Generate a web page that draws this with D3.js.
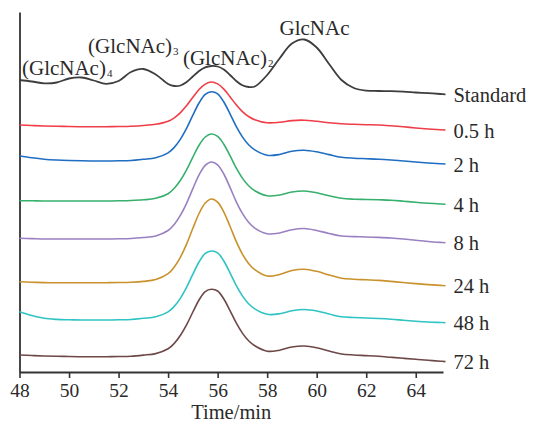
<!DOCTYPE html>
<html>
<head>
<meta charset="utf-8">
<script src="https://cdn.jsdelivr.net/npm/d3@7"></script>
<style>
  html, body { margin: 0; padding: 0; background: #fff; }
  svg { display: block; }
  text { font-family: "Liberation Serif", "Times New Roman", serif; fill: #2a2a2a; }
</style>
</head>
<body>
<svg id="chart" width="533" height="423"></svg>
<script>
// Retention time (min)
const times = [48, 48.5, 49, 49.5, 50, 50.5, 51, 51.5, 52, 52.5, 53, 53.5, 54,
  54.25, 54.5, 54.75, 55, 55.25, 55.5, 55.75, 56, 56.25, 56.5, 56.75, 57, 57.25, 57.5,
  58, 58.5, 59, 59.5, 60, 60.5, 61, 61.5, 62, 62.5, 63, 63.5, 64, 64.5, 65, 65.2];

// Stacked detector signal (arbitrary units, traces offset vertically)
const standard = [29.2, 29.05, 28.87, 28.95, 29.35, 29.45, 29.15, 28.82, 29.1, 30.0, 30.3, 29.75, 28.8,
  28.6, 28.65, 29.0, 29.55, 30.1, 30.47, 30.6, 30.55, 30.25, 29.7, 29.1, 28.67, 28.5, 28.55,
  29.7, 31.35, 32.85, 33.25, 32.45, 30.8, 29.2, 28.4, 28.14, 28.1, 28.08, 28.03, 27.95, 27.88, 27.8, 27.77];
const h05 = [24.7, 24.65, 24.6, 24.57, 24.55, 24.53, 24.53, 24.53, 24.55, 24.58, 24.65, 24.77, 25.08,
  25.42, 25.94, 26.64, 27.47, 28.25, 28.79, 29.0, 28.81, 28.29, 27.53, 26.72, 26.04, 25.55, 25.23,
  24.92, 24.97, 25.14, 25.18, 25.07, 24.92, 24.82, 24.77, 24.73, 24.7, 24.62, 24.52, 24.4, 24.3, 24.22, 24.2];
const h2 = [21.6, 21.42, 21.28, 21.2, 21.15, 21.12, 21.1, 21.1, 21.12, 21.15, 21.27, 21.42, 21.91,
  22.46, 23.29, 24.38, 25.68, 26.9, 27.76, 28.03, 27.82, 27.0, 25.82, 24.56, 23.51, 22.72, 22.21,
  21.68, 21.75, 22.08, 22.18, 22.02, 21.74, 21.48, 21.38, 21.33, 21.28, 21.2, 21.1, 21.0, 20.9, 20.82, 20.8];
const h4 = [17.13, 17.12, 17.1, 17.1, 17.1, 17.1, 17.1, 17.1, 17.12, 17.15, 17.22, 17.37, 17.83,
  18.37, 19.17, 20.23, 21.49, 22.68, 23.5, 23.8, 23.56, 22.78, 21.63, 20.41, 19.39, 18.63, 18.13,
  17.62, 17.7, 18.0, 18.1, 17.92, 17.62, 17.37, 17.28, 17.25, 17.22, 17.18, 17.08, 16.97, 16.87, 16.8, 16.78];
const h8 = [13.37, 13.34, 13.3, 13.3, 13.3, 13.3, 13.3, 13.3, 13.32, 13.35, 13.45, 13.61, 14.15,
  14.76, 15.68, 16.89, 18.34, 19.71, 20.66, 21.0, 20.72, 19.8, 18.46, 17.04, 15.86, 14.97, 14.39,
  13.82, 13.9, 14.22, 14.35, 14.15, 13.85, 13.6, 13.54, 13.5, 13.46, 13.4, 13.3, 13.17, 13.05, 12.96, 12.93];
const h24 = [9.03, 8.98, 8.94, 8.92, 8.92, 8.92, 8.92, 8.93, 8.95, 8.98, 9.06, 9.24, 9.83,
  10.5, 11.49, 12.81, 14.37, 15.85, 16.9, 17.3, 16.98, 15.99, 14.57, 13.06, 11.79, 10.85, 10.23,
  9.6, 9.75, 10.15, 10.28, 10.07, 9.7, 9.38, 9.28, 9.22, 9.16, 9.06, 8.95, 8.84, 8.74, 8.66, 8.63];
const h48 = [6.03, 5.65, 5.37, 5.26, 5.22, 5.2, 5.2, 5.2, 5.22, 5.25, 5.37, 5.52, 6.01,
  6.56, 7.39, 8.48, 9.78, 11.0, 11.86, 12.1, 11.92, 11.1, 9.92, 8.66, 7.61, 6.82, 6.31,
  5.77, 5.82, 6.12, 6.25, 6.1, 5.8, 5.52, 5.45, 5.4, 5.35, 5.28, 5.18, 5.08, 5.0, 4.95, 4.93];
const h72 = [1.7, 1.65, 1.6, 1.57, 1.55, 1.53, 1.53, 1.53, 1.55, 1.58, 1.69, 1.84, 2.32,
  2.86, 3.67, 4.73, 6.0, 7.2, 8.04, 8.27, 8.1, 7.3, 6.14, 4.91, 3.89, 3.12, 2.62,
  2.08, 2.18, 2.5, 2.6, 2.42, 2.1, 1.8, 1.7, 1.64, 1.57, 1.47, 1.37, 1.27, 1.17, 1.08, 1.04];

const seriesNames = ["Standard", "0.5 h", "2 h", "4 h", "8 h", "24 h", "48 h", "72 h"];
const seriesValues = [standard, h05, h2, h4, h8, h24, h48, h72];
const seriesColors = ["#3d3d3d", "#ef3e47", "#1f6ec2", "#36b06c", "#9a80c2", "#c9922c", "#2fc3c3", "#6e4747"];

const xTicks = [48, 50, 52, 54, 56, 58, 60, 62, 64];
const xTitle = "Time/min";

// Peak annotations on the standard
const peakLabels = [
  { text: "(GlcNAc)", sub: "4", t: 48.1, v: 29.7 },
  { text: "(GlcNAc)", sub: "3", t: 50.77, v: 31.9 },
  { text: "(GlcNAc)", sub: "2", t: 54.6, v: 30.7 },
  { text: "GlcNAc", sub: "", t: 58.5, v: 33.7 }
];

const svg = d3.select("#chart");
const x = d3.scaleLinear().domain([48, 65.1]).range([19.5, 443]);
const y = d3.scaleLinear().domain([0, 36]).range([372, 12]);

// axes
const xAxis = svg.append("g")
  .attr("transform", `translate(0,${y(0)})`)
  .call(d3.axisBottom(x).tickValues(xTicks).tickFormat(d3.format("d")).tickSizeInner(6).tickSizeOuter(0).tickPadding(5));
xAxis.select(".domain").attr("stroke", "#333").attr("stroke-width", 1.8);
xAxis.selectAll(".tick line").attr("stroke", "#333").attr("stroke-width", 1.6);
xAxis.selectAll(".tick text")
  .attr("font-family", "Liberation Serif, serif")
  .attr("font-size", 19.5).attr("fill", "#2a2a2a");

const yAxis = svg.append("g")
  .attr("transform", `translate(${x(48)},0)`)
  .call(d3.axisLeft(y).tickValues([]).tickSizeOuter(0));
yAxis.select(".domain").attr("stroke", "#333").attr("stroke-width", 1.8);

svg.append("text")
  .attr("x", (x(48) + x(65.1)) / 2)
  .attr("y", 419)
  .attr("text-anchor", "middle")
  .attr("font-size", 20.5)
  .text(xTitle);

// traces
const line = d3.line()
  .x((d, i) => x(times[i]))
  .y(d => y(d))
  .curve(d3.curveCatmullRom.alpha(0.5));

seriesValues.forEach((vals, k) => {
  svg.append("path")
    .attr("d", line(vals))
    .attr("fill", "none")
    .attr("stroke", seriesColors[k])
    .attr("stroke-width", k === 0 ? 1.8 : 1.6)
    .attr("stroke-linejoin", "round");
  const last = vals[vals.length - 1];
  svg.append("text")
    .attr("x", x(times[times.length - 1]) + 8)
    .attr("y", y(last) + 7.5)
    .attr("font-size", 20.5)
    .text(seriesNames[k]);
});

// annotations
peakLabels.forEach(p => {
  const t = svg.append("text")
    .attr("x", x(p.t))
    .attr("y", y(p.v))
    .attr("font-size", 21);
  t.append("tspan").text(p.text);
  if (p.sub) {
    t.append("tspan").attr("font-size", 11).attr("dy", 2).attr("dx", 1).text(p.sub);
  }
});
</script>
</body>
</html>
